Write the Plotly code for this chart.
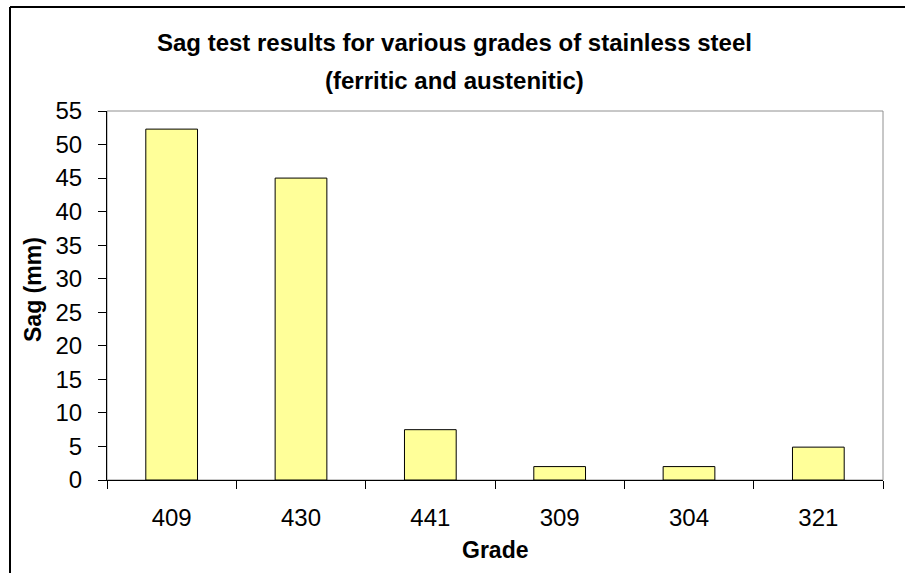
import plotly.graph_objects as go

grades = ["409", "430", "441", "309", "304", "321"]
sag_mm = [52.3, 45.0, 7.5, 2.0, 2.0, 4.9]
y_ticks = [0, 5, 10, 15, 20, 25, 30, 35, 40, 45, 50, 55]
title_lines = ["Sag test results for various grades of stainless steel",
               "(ferritic and austenitic)"]
x_title = "Grade"
y_title = "Sag (mm)"

font_family = "Liberation Sans, Arial, sans-serif"

# plot area in pixels
L, R, T, B = 107, 883, 111, 480
W, H = R - L, B - T


def px(x):
    return (x - L) / W


def py(y):
    return (B - y) / H


fig = go.Figure()
fig.add_trace(go.Bar(
    x=grades, y=sag_mm,
    marker=dict(color="#FFFF99", line=dict(color="#000000", width=1)),
    width=0.4,
))

fig.update_layout(
    width=905, height=573,
    margin=dict(l=L, r=905 - R, t=T, b=573 - B),
    paper_bgcolor="white", plot_bgcolor="white",
    showlegend=False,
    font=dict(family=font_family, color="black", size=24),
    xaxis=dict(
        type="category",
        tickson="boundaries",
        ticks="outside", ticklen=8, tickcolor="#000000",
        showline=True, linecolor="#000000", linewidth=1,
        showgrid=False,
        tickfont=dict(size=24),
        ticklabelstandoff=16,
    ),
    yaxis=dict(
        range=[0, 55],
        tickvals=y_ticks,
        ticks="outside", ticklen=8, tickcolor="#000000",
        showline=True, linecolor="#000000", linewidth=1,
        showgrid=False, zeroline=False,
        tickfont=dict(size=24),
        ticklabelstandoff=11,
    ),
)

annos = [
    dict(text="<b>%s</b>" % title_lines[0], x=px(454), y=py(42), size=24),
    dict(text="<b>%s</b>" % title_lines[1], x=px(454), y=py(80), size=24),
    dict(text="<b>%s</b>" % x_title, x=px(495), y=py(550), size=23),
]
for a in annos:
    fig.add_annotation(text=a["text"], x=a["x"], y=a["y"], xref="paper", yref="paper",
                       xanchor="center", yanchor="middle", showarrow=False,
                       font=dict(size=a["size"], family=font_family, color="black"))
fig.add_annotation(text="<b>%s</b>" % y_title, x=px(33), y=py(290), xref="paper", yref="paper",
                   xanchor="center", yanchor="middle", showarrow=False, textangle=-90,
                   font=dict(size=23, family=font_family, color="black"))

# grey frame on top/right of plot area
fig.add_shape(type="rect", xref="paper", yref="paper", x0=0, y0=0, x1=1, y1=1,
              line=dict(color="#909090", width=1), layer="below")
# outer chart border (left and top only; extends beyond view)
fig.add_shape(type="line", xref="paper", yref="paper",
              x0=px(10), x1=px(10), y0=py(590), y1=py(7),
              line=dict(color="#000000", width=2))
fig.add_shape(type="line", xref="paper", yref="paper",
              x0=px(10), x1=px(920), y0=py(7), y1=py(7),
              line=dict(color="#000000", width=2))

fig.write_html("out.html")
